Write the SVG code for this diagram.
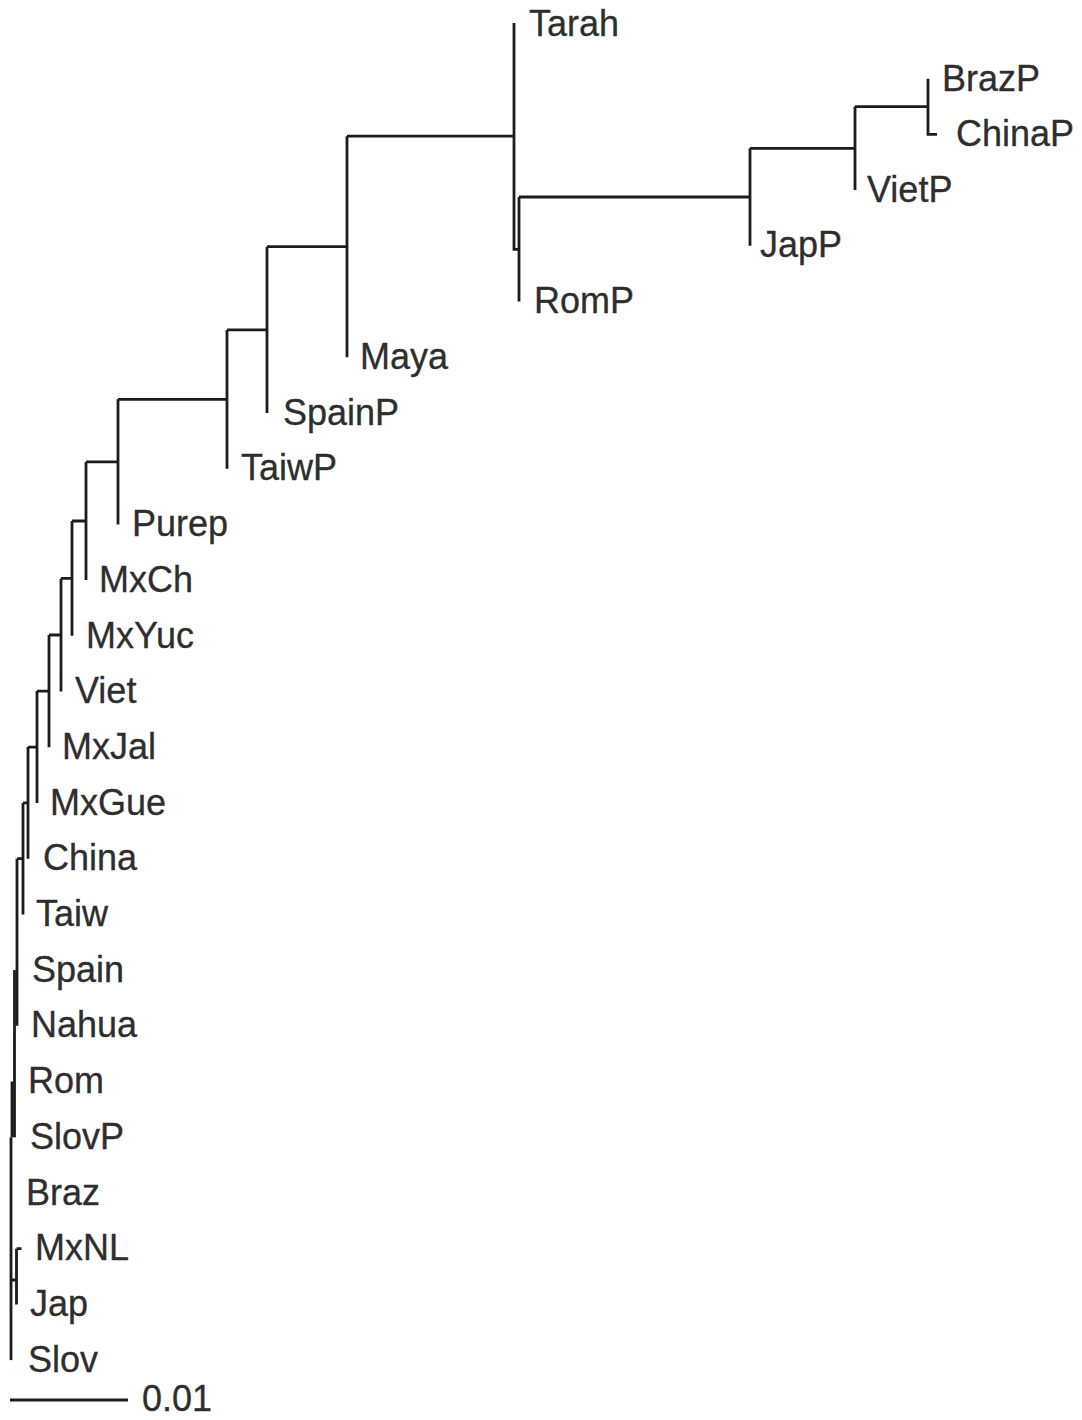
<svg xmlns="http://www.w3.org/2000/svg" width="1082" height="1420" viewBox="0 0 1082 1420">
<style>
.br{fill:none;stroke:#1c1c1c;stroke-width:2.8;stroke-linecap:butt}
.lb{font-family:"Liberation Sans",Arial,sans-serif;font-size:36px;fill:#2e2e2e;stroke:#2e2e2e;stroke-width:0.3}
</style>
<rect width="1082" height="1420" fill="#ffffff"/>
<g id="branches" class="br">
<path d="M928 78.7V134.4H937"/>
<path d="M855 106.6H928M855 106.6V190.1"/>
<path d="M750 148.3H855M750 148.3V245.8"/>
<path d="M519 197H750M519 197V301.6"/>
<path d="M514 23V249.3H519"/>
<path d="M347 136.2H514M347 136.2V357.3"/>
<path d="M267 246.7H347M267 246.7V413"/>
<path d="M227 329.9H267M227 329.9V468.7"/>
<path d="M118 399.3H227M118 399.3V524.4"/>
<path d="M86 461.9H118M86 461.9V580.1"/>
<path d="M72 521H86M72 521V635.8"/>
<path d="M61 578.4H72M61 578.4V691.5"/>
<path d="M49 635H61M49 635V747.3"/>
<path d="M37 691.1H49M37 691.1V803"/>
<path d="M28 747.1H37M28 747.1V858.7"/>
<path d="M23 802.9H28M23 802.9V914.4"/>
<path d="M17 858.7H23M17 858.7V1025.8"/>
<path d="M14.5 970.1V1137.3"/>
<path d="M12 1081.5V1137.3"/>
<path d="M11 1137.3V1360.1"/>
<path d="M16.5 1248.7H21.5M16.5 1248.7V1304.4M11 1280H16.5"/>
<path d="M10 1400H128"/>
</g>
<g id="leaf-Tarah"><text class="lb" x="529" y="36">Tarah</text></g>
<g id="leaf-BrazP"><text class="lb" x="942" y="91">BrazP</text></g>
<g id="leaf-ChinaP"><text class="lb" x="956" y="146">ChinaP</text></g>
<g id="leaf-VietP"><text class="lb" x="867" y="202">VietP</text></g>
<g id="leaf-JapP"><text class="lb" x="760" y="257">JapP</text></g>
<g id="leaf-RomP"><text class="lb" x="534" y="313">RomP</text></g>
<g id="leaf-Maya"><text class="lb" x="360" y="369">Maya</text></g>
<g id="leaf-SpainP"><text class="lb" x="283" y="425">SpainP</text></g>
<g id="leaf-TaiwP"><text class="lb" x="241" y="480">TaiwP</text></g>
<g id="leaf-Purep"><text class="lb" x="132" y="536">Purep</text></g>
<g id="leaf-MxCh"><text class="lb" x="99" y="592">MxCh</text></g>
<g id="leaf-MxYuc"><text class="lb" x="86" y="648">MxYuc</text></g>
<g id="leaf-Viet"><text class="lb" x="75" y="703">Viet</text></g>
<g id="leaf-MxJal"><text class="lb" x="62" y="759">MxJal</text></g>
<g id="leaf-MxGue"><text class="lb" x="50" y="815">MxGue</text></g>
<g id="leaf-China"><text class="lb" x="43" y="870">China</text></g>
<g id="leaf-Taiw"><text class="lb" x="36" y="926">Taiw</text></g>
<g id="leaf-Spain"><text class="lb" x="32" y="982">Spain</text></g>
<g id="leaf-Nahua"><text class="lb" x="31" y="1037">Nahua</text></g>
<g id="leaf-Rom"><text class="lb" x="28" y="1093">Rom</text></g>
<g id="leaf-SlovP"><text class="lb" x="30" y="1149">SlovP</text></g>
<g id="leaf-Braz"><text class="lb" x="26" y="1205">Braz</text></g>
<g id="leaf-MxNL"><text class="lb" x="35" y="1260">MxNL</text></g>
<g id="leaf-Jap"><text class="lb" x="30" y="1316">Jap</text></g>
<g id="leaf-Slov"><text class="lb" x="28" y="1372">Slov</text></g>
<g id="scale-label"><text class="lb" x="142" y="1411">0.01</text></g>
</svg>
